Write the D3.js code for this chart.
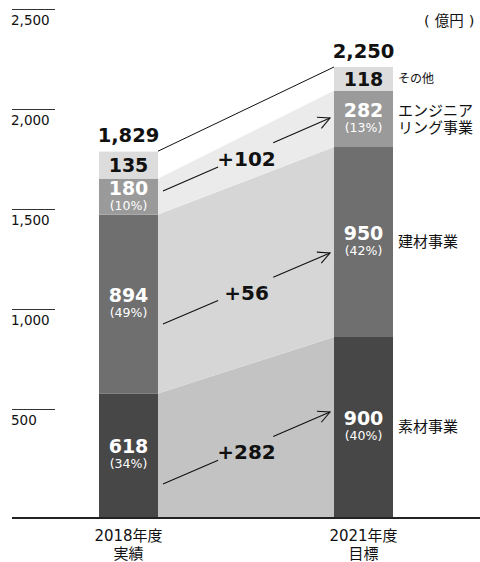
<!DOCTYPE html>
<html>
<head>
<meta charset="utf-8">
<script src="https://cdn.jsdelivr.net/npm/d3@7"></script>
<style>
  html, body { margin: 0; padding: 0; background: #fff; }
  svg { display: block; }
  text { font-family: "DejaVu Sans", "Noto Sans CJK JP", sans-serif; }
</style>
</head>
<body>
<div id="chart"></div>
<script>
// ── Data ──
const years = ['2018', '2021'];
const yearLabels = [['2018年度', '実績'], ['2021年度', '目標']];
const segments = ['素材事業', '建材事業', 'エンジニアリング事業', 'その他'];
const segLabels = [['素材事業'], ['建材事業'], ['エンジニア', 'リング事業'], ['その他']];
const values2018 = [618, 894, 180, 135];
const values2021 = [900, 950, 282, 118];
const shares2018 = ['34%', '49%', '10%', null];
const shares2021 = ['40%', '42%', '13%', null];
const totals = [1829, 2250];
const yTicks = [500, 1000, 1500, 2000, 2500];
// growth arrows: label, start value (2018 side), end value (2021 side)
const growthLabels = ['+282', '+56', '+102'];
const growthFrom = [165, 965, 1630];
const growthTo = [525, 1320, 1995];

// ── Layout ──
const W = 480, H = 562;
const COL = {
  seg: ['#474747', '#6f6f6f', '#9a9a9a', '#dcdcdc'],
  band: ['#c3c3c3', '#d6d6d6', '#ebebeb', '#ffffff'],
  segText: ['#fff', '#fff', '#fff', '#111'],
  ink: '#111'
};

const svg = d3.select('#chart').append('svg')
  .attr('width', W).attr('height', H)
  .attr('viewBox', `0 0 ${W} ${H}`);

const y = d3.scaleLinear().domain([0, 2500]).range([517, 17]);
const x = d3.scaleBand().domain(years).range([99, 393]).paddingInner(0.749).paddingOuter(0);
const bw = x.bandwidth();

// stacked data
const series = [values2018, values2021];
const stacks = series.map(vals => {
  let acc = 0;
  return vals.map(v => { const s = { y0: acc, y1: acc + v }; acc += v; return s; });
});

const xL = x(years[0]) + bw;   // right edge of left bar
const xR = x(years[1]);        // left edge of right bar

// ── Connecting bands ──
const bandG = svg.append('g');
segments.forEach((s, i) => {
  const a = stacks[0][i], b = stacks[1][i];
  bandG.append('path')
    .attr('d', `M${xL},${y(a.y0)} L${xR},${y(b.y0)} L${xR},${y(b.y1)} L${xL},${y(a.y1)} Z`)
    .attr('fill', COL.band[i]);
});
// top line joining totals
svg.append('line')
  .attr('x1', xL).attr('y1', y(totals[0]))
  .attr('x2', xR).attr('y2', y(totals[1]))
  .attr('stroke', COL.ink).attr('stroke-width', 1);

// ── Y axis (custom ticks: rule above, label below) ──
const axisG = svg.append('g');
axisG.selectAll('line').data(yTicks).enter().append('line')
  .attr('x1', 12).attr('x2', 55)
  .attr('y1', d => y(d) - 7.5).attr('y2', d => y(d) - 7.5)
  .attr('stroke', '#333').attr('stroke-width', 1);
axisG.selectAll('text').data(yTicks).enter().append('text')
  .attr('x', 11).attr('y', d => y(d) + 8)
  .attr('font-size', 13.5).attr('fill', COL.ink)
  .text(d => d3.format(',')(d));

// ── Bars ──
years.forEach((yr, j) => {
  const g = svg.append('g');
  const shares = j === 0 ? shares2018 : shares2021;
  const vals = series[j];
  stacks[j].forEach((s, i) => {
    g.append('rect')
      .attr('x', x(yr)).attr('width', bw)
      .attr('y', y(s.y1)).attr('height', y(s.y0) - y(s.y1))
      .attr('fill', COL.seg[i]);
    const cx = x(yr) + bw / 2;
    const cy = (y(s.y0) + y(s.y1)) / 2;
    if (shares[i]) {
      g.append('text').attr('x', cx).attr('y', cy - 2)
        .attr('text-anchor', 'middle').attr('font-size', 19).attr('font-weight', 700)
        .attr('fill', COL.segText[i]).text(vals[i]);
      g.append('text').attr('x', cx).attr('y', cy + 13)
        .attr('text-anchor', 'middle').attr('font-size', 12.5)
        .attr('fill', COL.segText[i]).text(`(${shares[i]})`);
    } else {
      g.append('text').attr('x', cx).attr('y', cy + 7)
        .attr('text-anchor', 'middle').attr('font-size', 19).attr('font-weight', 700)
        .attr('fill', COL.segText[i]).text(vals[i]);
    }
  });
  // total
  g.append('text').attr('x', x(yr) + bw / 2).attr('y', y(totals[j]) - 9)
    .attr('text-anchor', 'middle').attr('font-size', 19.5).attr('font-weight', 700)
    .attr('fill', COL.ink).text(d3.format(',')(totals[j]));
  // category label
  yearLabels[j].forEach((t, k) => {
    g.append('text').attr('x', x(yr) + bw / 2).attr('y', 541 + k * 18)
      .attr('text-anchor', 'middle').attr('font-size', 15)
      .attr('fill', COL.ink).text(t);
  });
});

// ── Segment names right of 2021 bar ──
const nameG = svg.append('g');
segments.forEach((s, i) => {
  const st = stacks[1][i];
  const cy = (y(st.y0) + y(st.y1)) / 2;
  const lines = segLabels[i];
  const fs = i === 3 ? 12 : 15;
  const lh = 17;
  lines.forEach((t, k) => {
    nameG.append('text')
      .attr('x', x(years[1]) + bw + 5)
      .attr('y', cy + (k - (lines.length - 1) / 2) * lh + fs * 0.36)
      .attr('font-size', fs).attr('fill', COL.ink)
      .text(t);
  });
});

// unit
const unit = svg.append('text').attr('x', 424).attr('y', 26)
  .attr('font-size', 14.5).attr('fill', COL.ink);
unit.append('tspan').text('(');
unit.append('tspan').attr('dx', 5).text('億円');
unit.append('tspan').attr('dx', 5).text(')');

// ── Growth arrows ──
const defs = svg.append('defs');
defs.append('marker').attr('id', 'arr')
  .attr('viewBox', '0 -7 13 14').attr('refX', 12).attr('refY', 0)
  .attr('markerWidth', 13).attr('markerHeight', 14)
  .attr('markerUnits', 'userSpaceOnUse').attr('orient', 'auto')
  .append('path').attr('d', 'M0,-6L12,0L0,6')
  .attr('fill', 'none').attr('stroke', COL.ink).attr('stroke-width', 1.1);

const ax0 = xL + 5, ax1 = xR - 4;
const gapA = 0.33, gapB = 0.66;   // fraction of the arrow hidden behind the label
growthLabels.forEach((lab, i) => {
  const y0 = y(growthFrom[i]), y1 = y(growthTo[i]);
  const px = t => ax0 + (ax1 - ax0) * t;
  const py = t => y0 + (y1 - y0) * t;
  svg.append('line').attr('x1', px(0)).attr('y1', py(0))
    .attr('x2', px(gapA)).attr('y2', py(gapA))
    .attr('stroke', COL.ink).attr('stroke-width', 1.1);
  svg.append('line').attr('x1', px(gapB)).attr('y1', py(gapB))
    .attr('x2', px(1)).attr('y2', py(1))
    .attr('stroke', COL.ink).attr('stroke-width', 1.1)
    .attr('marker-end', 'url(#arr)');
  svg.append('text').attr('x', px(0.5)).attr('y', py(0.5) + 11)
    .attr('text-anchor', 'middle').attr('font-size', 20).attr('font-weight', 700)
    .attr('fill', COL.ink).text(lab);
});

// baseline
svg.append('line').attr('x1', 12).attr('x2', 480)
  .attr('y1', y(0) + 1).attr('y2', y(0) + 1)
  .attr('stroke', '#222').attr('stroke-width', 2);
</script>
</body>
</html>
